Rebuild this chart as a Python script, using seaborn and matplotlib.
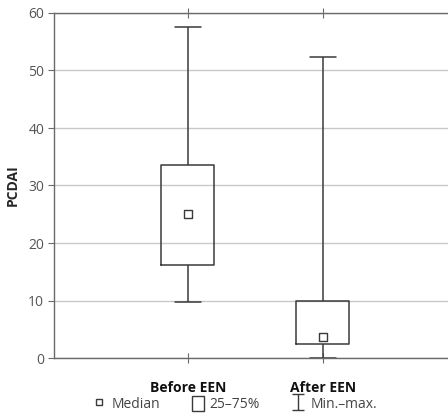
import numpy as np
import pandas as pd
import seaborn as sns
import matplotlib.pyplot as plt
from matplotlib.lines import Line2D
from matplotlib.patches import Rectangle
from matplotlib.path import Path

# 数据：每组的 最小值、下四分位、中位数、上四分位、最大值
groups = ["Before EEN", "After EEN"]
before_een = [9.8, 16.2, 25.0, 33.5, 57.5]
after_een = [0.0, 2.5, 3.7, 10.0, 52.3]
medians = [before_een[2], after_een[2]]

sns.set_style("white")
plt.rcParams['font.family'] = ['Open Sans', 'DejaVu Sans']

# 5个点时 np.percentile 的四分位正好等于给定值
df = pd.DataFrame({
    "group": [groups[0]] * 5 + [groups[1]] * 5,
    "PCDAI": before_een + after_een,
})
med_df = pd.DataFrame({"group": groups, "PCDAI": medians})

line_c = "#3a3a3a"
fig = plt.figure(figsize=(4.48, 4.15), dpi=100)
ax = fig.add_axes([54 / 448, 1 - 358 / 415, 1 - 54 / 448 + 0.01, (358 - 13) / 415])

sns.boxplot(data=df, x="group", y="PCDAI", whis=(0, 100), width=0.39,
            fill=False, color=line_c, linewidth=1.1,
            medianprops=dict(visible=False), ax=ax)
sns.scatterplot(data=med_df, x="group", y="PCDAI", marker="s", s=30,
                facecolor="white", edgecolor=line_c, linewidth=1.0,
                zorder=5, ax=ax)

ax.set_ylim(0, 60)
ax.set_xlim(-0.99, 1.96)
ax.set_yticks(range(0, 61, 10))
ax.yaxis.grid(True, color="#c8c8c8", linewidth=1.0)
ax.set_axisbelow(True)
for s in ["left", "bottom", "top"]:
    ax.spines[s].set_color("#6a6a6a")
    ax.spines[s].set_linewidth(1.0)
ax.spines["right"].set_visible(False)

ax.tick_params(axis="y", left=True, length=4, color="#6a6a6a",
               labelsize=10, labelcolor="#555555", pad=3)
ax.tick_params(axis="x", bottom=True, top=True, direction="inout", length=7,
               color="#6a6a6a", labelsize=10, pad=13)
for t in ax.get_xticklabels():
    t.set_fontweight("bold")
    t.set_color("#111111")
ax.set_xlabel("")
ax.set_ylabel("PCDAI", fontsize=10, fontweight="bold", labelpad=6)

# 图例
ibeam = Path([(-0.75, 1), (0.75, 1), (0, 1), (0, -1), (-0.75, -1), (0.75, -1)],
             [Path.MOVETO, Path.LINETO, Path.MOVETO, Path.LINETO, Path.MOVETO, Path.LINETO])
handles = [
    Line2D([], [], marker="s", linestyle="none", markersize=5,
           markerfacecolor="white", markeredgecolor=line_c, markeredgewidth=1.0),
    Rectangle((0, 0), 1, 1, facecolor="white", edgecolor=line_c, linewidth=1.0),
    Line2D([], [], marker=ibeam, linestyle="none", markersize=11,
           markeredgecolor=line_c, markeredgewidth=1.0),
]
fig.legend(handles, ["Median", "25–75%", "Min.–max."], ncol=3,
           loc="center", bbox_to_anchor=(235 / 448, 1 - 404 / 415),
           frameon=False, fontsize=10, handlelength=0.9, handleheight=1.3,
           handletextpad=0.4, columnspacing=2.3, labelcolor="#444444",
           borderpad=0)

fig.savefig("out.png", dpi=100)
